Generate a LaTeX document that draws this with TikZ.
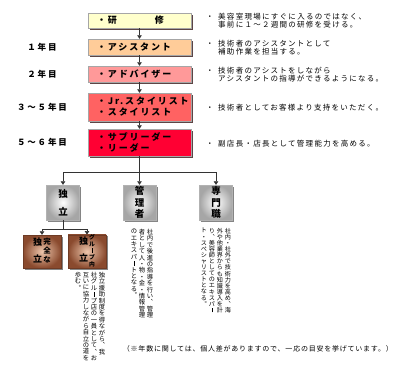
\documentclass[tikz,border=0pt]{standalone}
\usepackage{fontspec}
\setmainfont{Noto Sans CJK JP}
\newfontfamily\jpbox{Noto Sans CJK JP}[LetterSpace=21]
\newfontfamily\jpdesc{Noto Sans CJK JP}[LetterSpace=17]
\newfontfamily\jpnote{Noto Sans CJK JP}[LetterSpace=11]
\usetikzlibrary{arrows.meta,shadows}
\definecolor{cA}{HTML}{FFFFCC}
\definecolor{cB}{HTML}{FFCC99}
\definecolor{cC}{HTML}{FF9999}
\definecolor{cD}{HTML}{FF6262}
\definecolor{cE}{HTML}{FF0033}
\definecolor{shd}{HTML}{5C4545}
\definecolor{cuDark}{HTML}{8A4A2E}
\definecolor{cuLight}{HTML}{EDC6AC}
% vertical-writing forms
\newcommand\vc{︑}
\newcommand\vp{︒}
\newcommand\vb{\makebox[1em]{\rule[-.02em]{.07em}{.8em}}}
\begin{document}
\begin{tikzpicture}[x=1pt,y=-1pt,
  link/.style={draw=black!80, line width=0.6pt},
  conn/.style={link, -{Triangle[length=3.5pt,width=4.5pt]}},
  stagebox/.style={draw=gray!70, line width=0.4pt, minimum width=103pt, text width=85pt,
    align=left, inner xsep=9pt, inner ysep=1pt,
    font=\jpbox\bfseries\fontsize{9}{11}\selectfont,
    drop shadow={shadow xshift=2pt, shadow yshift=-1.5pt, fill=shd, opacity=1}},
  desc/.style={anchor=west, align=left, inner sep=0pt, font=\jpdesc\fontsize{7.5}{8}\selectfont},
  yearlbl/.style={inner sep=0pt, font=\jpbox\bfseries\fontsize{8.5}{10}\selectfont},
  graybox/.style={minimum width=33pt, minimum height=35pt, inner sep=0pt, align=center,
    inner color=white, outer color=gray!70, draw=gray!60, line width=0.4pt,
    drop shadow={shadow xshift=1.5pt, shadow yshift=-1.5pt, fill=black!60, opacity=.8},
    font=\bfseries\fontsize{9.5}{11.5}\selectfont},
  cubox/.style={minimum width=38pt, minimum height=33pt, inner sep=0pt,
    inner color=cuLight, outer color=cuDark, draw=cuDark!80!black, line width=0.4pt,
    drop shadow={shadow xshift=1.5pt, shadow yshift=-1.5pt, fill=black!60, opacity=.8},
    font=\bfseries\fontsize{9}{10}\selectfont},
  vt/.style={anchor=north, inner sep=0pt, align=center, font=\fontsize{6.3}{6.4}\selectfont},
  vtr/.style={vt, font=\fontsize{6.1}{6.1}\selectfont}]
\useasboundingbox (0,0) rectangle (397,365);
\clip (0,0) rectangle (397,365);
% stages
\node[stagebox, fill=cA, minimum height=15pt] (s1) at (139.5,20.5) {・研\hspace{38pt}修};
\node[stagebox, fill=cB, minimum height=16pt] (s2) at (139.5,47) {・アシスタント};
\node[stagebox, fill=cC, minimum height=16pt] (s3) at (139.5,74) {・アドバイザー};
\node[stagebox, fill=cD, minimum height=28pt] (s4) at (139.5,107) {・Jr.スタイリスト\\・スタイリスト};
\node[stagebox, fill=cE, minimum height=27pt] (s5) at (139.5,142.5) {・サブリーダー\\・リーダー};
\draw[conn] (s1) -- (s2);
\draw[conn] (s2) -- (s3);
\draw[conn] (s3) -- (s4);
\draw[conn] (s4) -- (s5);
% year labels
\node[yearlbl] (y1) at (42,47) {１年目};
\node[yearlbl] (y2) at (42,74) {２年目};
\node[yearlbl] (y3) at (42,107) {３～５年目};
\node[yearlbl] (y4) at (42,142.5) {５～６年目};
% descriptions
\node[desc] (d1) at (206,20.5) {\makebox[12pt][l]{・}美容室現場にすぐに入るのではなく、\\\hspace*{12pt}事前に１～２週間の研修を受ける。};
\node[desc] (d2) at (206,47.5) {\makebox[12pt][l]{・}技術者のアシスタントとして\\\hspace*{12pt}補助作業を担当する。};
\node[desc] (d3) at (206,75) {\makebox[12pt][l]{・}技術者のアシストをしながら\\\hspace*{12pt}アシスタントの指導ができるようになる。};
\node[desc] (d4) at (206,107.5) {\makebox[12pt][l]{・}技術者としてお客様より支持をいただく。};
\node[desc] (d5) at (206,144) {\makebox[12pt][l]{・}副店長・店長として管理能力を高める。};
% branches
\coordinate (j1) at (139.5,172);
\node[graybox] (g1) at (63,202.5) {独\\[6pt]立};
\node[graybox] (g2) at (139.5,202.5) {管\\理\\者};
\node[graybox] (g3) at (216,202.5) {専\\門\\職};
\draw[link] (s5) -- (j1);
\draw[conn] (j1) -| (g1);
\draw[conn] (j1) -- (g2);
\draw[conn] (j1) -| (g3);
\coordinate (j2) at (63,229);
\node[cubox] (u1) at (42,251.5) {\begin{tabular}[c]{@{}c@{}}独\\[6pt]立\end{tabular}\hspace{1pt}{\fontsize{7.5}{8.5}\selectfont\begin{tabular}[c]{@{}c@{}}完\\全\\な\end{tabular}}};
\node[cubox] (u2) at (87,251.5) {\begin{tabular}[c]{@{}c@{}}独\\[6pt]立\end{tabular}\hspace{1pt}{\fontsize{5.8}{6.2}\selectfont\begin{tabular}[c]{@{}c@{}}グ\\ル\\\vb\\プ\\内\end{tabular}}};
\draw[link] (g1) -- (j2);
\draw[conn] (j2) -| (u1);
\draw[conn] (j2) -| (u2);
% vertical texts
\node[vt] (l1) at (102,272) {独\\立\\援\\助\\制\\度\\を\\得\\な\\が\\ら\\\vc\\我};
\node[vt] (l2) at (94,272) {社\\グ\\ル\\\vb\\プ\\店\\の\\一\\員\\と\\し\\て\\\vc\\お};
\node[vt] (l3) at (86,272) {互\\い\\に\\協\\力\\し\\な\\が\\ら\\自\\立\\の\\道\\を};
\node[vt] (l4) at (78,272) {歩\\む\\\vp};
\node[vt] (m1) at (150,229) {社\\内\\で\\後\\進\\の\\指\\導\\を\\行\\い\\\vc\\管\\理};
\node[vt] (m2) at (142,229) {者\\と\\し\\て\\人\\・\\物\\・\\金\\・\\情\\報\\管\\理};
\node[vt] (m3) at (134,229) {の\\エ\\キ\\ス\\パ\\\vb\\ト\\と\\な\\る\\\vp};
\node[vtr] (r1) at (228,228) {社\\内\\・\\社\\外\\で\\技\\術\\力\\を\\高\\め\\\vc\\海};
\node[vtr] (r2) at (220,228) {外\\や\\他\\業\\界\\か\\ら\\も\\知\\識\\導\\入\\を\\計};
\node[vtr] (r3) at (212,228) {り\\\vc\\美\\容\\師\\と\\し\\て\\の\\エ\\キ\\ス\\パ\\\vb};
\node[vtr] (r4) at (204,228) {ト\\・\\ス\\ペ\\シ\\ャ\\リ\\ス\\ト\\と\\な\\る\\\vp};
% note
\node[anchor=east, inner sep=0pt, font=\jpnote\fontsize{7}{8}\selectfont] (nt) at (393,349) {（※年数に関しては、個人差がありますので、一応の目安を挙げています。）};
\end{tikzpicture}
\end{document}
